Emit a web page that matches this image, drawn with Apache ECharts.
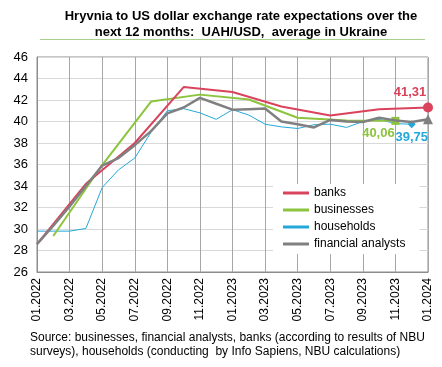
<!DOCTYPE html>
<html><head><meta charset="utf-8">
<script src="https://cdn.jsdelivr.net/npm/echarts@6/dist/echarts.min.js"></script>
<style>html,body{margin:0;padding:0;background:#fff}#c{width:442px;height:367px}</style>
</head><body><div id="c"></div>
<script>
const months = ["01.2022","02.2022","03.2022","04.2022","05.2022","06.2022","07.2022","08.2022","09.2022","10.2022","11.2022","12.2022",
"01.2023","02.2023","03.2023","04.2023","05.2023","06.2023","07.2023","08.2023","09.2023","10.2023","11.2023","12.2023","01.2024"];
const banks = [28.6,null,null,34.2,null,null,38.0,null,null,43.2,null,null,42.75,null,null,41.4,null,null,40.55,null,null,41.15,null,null,41.31];
const businesses = [null,29.35,null,null,35.95,null,null,41.85,null,null,42.5,null,null,42.05,null,null,40.35,null,null,40.1,null,null,40.06,null,null];
const households = [29.8,29.8,29.8,30.05,33.85,35.5,36.6,39.0,41.0,41.2,40.8,40.2,41.1,40.6,39.75,39.5,39.35,39.7,39.75,39.45,40.0,40.2,39.8,39.75,null];
const analysts = [28.6,30.3,32.1,34.0,35.9,36.6,37.8,39.1,40.75,41.3,42.2,41.65,41.1,41.15,41.2,40.0,39.75,39.45,40.15,40.0,39.95,40.35,40.1,39.95,40.2];
const seriesNames = ["banks","businesses","households","financial analysts"];
const endLabels = {banks:"41,31", businesses:"40,06", households:"39,75"};
const yTicks = {min:26, max:46, step:2};

const C = {banks:"#d9435c", businesses:"#8cc43e", households:"#23a8d9", analysts:"#808080"};
function withEnd(arr, sym, size, labelText, labelOpt, color){
  let last = -1; arr.forEach((v,i)=>{ if(v!==null) last=i; });
  return arr.map((v,i)=>{
    if(i!==last) return v;
    const o = {value:v, symbol:sym, symbolSize:size, itemStyle:{color:color}};
    if(labelText){ o.label = Object.assign({show:true, formatter:labelText, color:color, fontSize:13, fontWeight:'bold', fontFamily:'Liberation Sans, Arial'}, labelOpt); }
    return o;
  });
}
const chart = echarts.init(document.getElementById('c'), null, {renderer:'canvas'});
const ff = 'Liberation Sans, Arial, sans-serif';
chart.setOption({
  animation:false,
  textStyle:{fontFamily:ff},
  graphic:[
    {type:'text', x:241, y:8, style:{text:"Hryvnia to US dollar exchange rate expectations over the\nnext 12 months:  UAH/USD,  average in Ukraine", font:'bold 13px Liberation Sans, Arial', fill:'#000', align:'center', verticalAlign:'top', lineHeight:16}},
    {type:'line', shape:{x1:40,y1:39.5,x2:425,y2:39.5}, style:{stroke:'#a9d18e', lineWidth:1}},
    {type:'text', x:30, y:331, style:{text:"Source: businesses, financial analysts, banks (according to results of NBU\nsurveys), households (conducting  by Info Sapiens, NBU calculations)", font:'12px Liberation Sans Narrow, Liberation Sans, Arial', fill:'#000', lineHeight:14, verticalAlign:'top'}}
  ],
  grid:{left:37, right:14, top:57, bottom:95, show:true, borderColor:'#8c8c8c', borderWidth:1},
  legend:{
    orient:'vertical', left:273, top:184, backgroundColor:'#fff', padding:[3,14,4,10], itemGap:5,
    itemWidth:26, itemHeight:3, icon:'rect',
    textStyle:{fontSize:12, color:'#000', fontFamily:ff},
    data:seriesNames
  },
  xAxis:{
    type:'category', data:months, boundaryGap:false,
    axisLine:{show:true, lineStyle:{color:'#8c8c8c'}}, axisTick:{show:false},
    axisLabel:{interval:1, rotate:90, fontSize:12, color:'#000', margin:6, fontFamily:ff},
    splitLine:{show:true, interval:1, lineStyle:{color:'#a6a6a6', width:1}}
  },
  yAxis:{
    type:'value', min:yTicks.min, max:yTicks.max, interval:yTicks.step,
    axisLine:{show:true, lineStyle:{color:'#8c8c8c'}}, axisTick:{show:false},
    axisLabel:{fontSize:13, color:'#000', margin:9, fontFamily:ff},
    splitLine:{lineStyle:{color:'#d9d9d9'}}
  },
  series:[
    {name:'banks', type:'line', connectNulls:true, symbol:'none', showSymbol:true, color:C.banks, z:4,
     lineStyle:{width:2, color:C.banks},
     data:withEnd(banks,'circle',10,endLabels.banks,{position:'top', offset:[-18,2]},C.banks)},
    {name:'businesses', type:'line', connectNulls:true, symbol:'none', showSymbol:true, color:C.businesses, z:3,
     lineStyle:{width:2, color:C.businesses},
     data:withEnd(businesses,'rect',8,endLabels.businesses,{position:'bottom', offset:[-17,-3]},C.businesses)},
    {name:'households', type:'line', connectNulls:true, symbol:'none', showSymbol:true, color:C.households, z:2,
     lineStyle:{width:1, color:C.households},
     data:withEnd(households,'diamond',8,endLabels.households,{position:'bottom', offset:[0,-2]},C.households)},
    {name:'financial analysts', type:'line', connectNulls:true, symbol:'none', showSymbol:true, color:C.analysts, z:5,
     lineStyle:{width:2.5, color:C.analysts},
     data:withEnd(analysts,'triangle',10,null,null,C.analysts)}
  ]
});
</script></body></html>
